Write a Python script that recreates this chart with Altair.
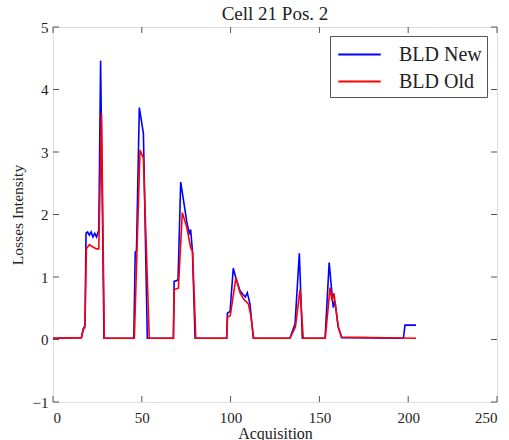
import altair as alt
import pandas as pd

# ---- data ----
new_x = [0, 16, 17, 18, 18.6, 19.5, 20.5, 21.5, 22.5, 23.5, 24.5, 25.8, 26.8, 28.7,
         45.5, 46.3, 47, 48.6, 50.9, 53.1,
         67.8, 68.2, 70.4, 71.9, 75.3, 76.8, 77.5, 78.5, 80.0,
         97.8, 98.2, 99.7, 101.5, 103, 105.3, 107, 108.3, 109.4, 110.9, 112.8,
         133.4, 136.3, 138.7, 140.4,
         153.2, 155.5, 157.8, 158.7, 160.6, 162.5,
         197.3, 198.2, 204.4]
new_y = [0.02, 0.03, 0.17, 0.22, 1.70, 1.72, 1.67, 1.72, 1.64, 1.70, 1.64, 1.75, 4.46, 0.02,
         0.02, 1.40, 1.42, 3.71, 3.30, 0.02,
         0.02, 0.93, 0.95, 2.52, 1.89, 1.68, 1.76, 1.42, 0.02,
         0.02, 0.42, 0.45, 1.14, 0.98, 0.78, 0.72, 0.68, 0.75, 0.57, 0.02,
         0.02, 0.25, 1.38, 0.02,
         0.02, 1.23, 0.51, 0.62, 0.20, 0.03,
         0.02, 0.23, 0.23]

old_x = [0, 16, 17, 18, 18.8, 20.5, 22.5, 24.5, 25.8, 27.3, 28.9,
         45.8, 49.0, 50.9, 54.2,
         67.8, 68.3, 70.6, 72.8, 75.3, 77.5, 78.6, 80.4,
         97.8, 98.3, 99.8, 103, 105.3, 107.2, 110, 111.3, 113,
         133.4, 136.5, 139.1, 140.9,
         153.3, 156, 157.1, 158.2, 160.6, 162.5,
         204.4]
old_y = [0.02, 0.03, 0.15, 0.20, 1.45, 1.52, 1.48, 1.45, 1.45, 3.62, 0.02,
         0.02, 3.03, 2.90, 0.02,
         0.02, 0.80, 0.82, 2.03, 1.80, 1.47, 1.41, 0.02,
         0.02, 0.36, 0.38, 0.99, 0.75, 0.65, 0.57, 0.40, 0.02,
         0.02, 0.20, 0.80, 0.02,
         0.02, 0.83, 0.62, 0.74, 0.20, 0.04,
         0.02]

series_names = ["BLD New", "BLD Old"]
series_colors = ["#0000ff", "#ff0000"]
x_ticks = [0, 50, 100, 150, 200, 250]
y_ticks = [-1, 0, 1, 2, 3, 4, 5]

df = pd.concat([
    pd.DataFrame({"Acquisition": new_x, "Losses": new_y, "series": series_names[0], "o": range(len(new_x))}),
    pd.DataFrame({"Acquisition": old_x, "Losses": old_y, "series": series_names[1], "o": range(len(old_x))}),
])

W, H = 444, 375
FONT = "Liberation Serif"

xscale = alt.Scale(domain=[0, 250], nice=False)
yscale = alt.Scale(domain=[-1, 5], nice=False)

lines = alt.Chart(df).mark_line(strokeWidth=1.6).encode(
    x=alt.X("Acquisition:Q", scale=xscale,
            axis=alt.Axis(values=x_ticks, format="d", title="Acquisition", tickSize=0, labelPadding=8,
                          domain=False, grid=False, labelFontSize=15, titleFontSize=16,
                          titleFontWeight="normal", titlePadding=0, labelFont=FONT, titleFont=FONT,
                          labelColor="#222", titleColor="#222")),
    y=alt.Y("Losses:Q", scale=yscale,
            axis=alt.Axis(values=y_ticks, format="d", title="Losses Intensity", tickSize=0, labelPadding=5,
                          domain=False, grid=False, labelFontSize=15, titleFontSize=15.5,
                          titleFontWeight="normal", titlePadding=7, labelFont=FONT, titleFont=FONT,
                          labelColor="#222", titleColor="#222")),
    color=alt.Color("series:N", scale=alt.Scale(domain=series_names, range=series_colors),
                    legend=alt.Legend(title=None, orient="none", legendX=277, legendY=9,
                                      symbolType="M-1.7,0L1.7,0", symbolSize=625, symbolStrokeWidth=1.8,
                                      symbolOffset=11,
                                      labelFontSize=20, labelFont=FONT, labelColor="#222",
                                      labelOffset=26, padding=5, rowPadding=3,
                                      strokeColor="#555", fillColor="white")),
    order="o:Q",
)

xt = pd.DataFrame({"t": x_ticks})
yt = pd.DataFrame({"t": y_ticks})
tick_col = "#555"
xb = alt.Chart(xt).mark_rule(color=tick_col).encode(x=alt.X("t:Q", scale=xscale), y=alt.value(H - 6), y2=alt.value(H))
xtop = alt.Chart(xt).mark_rule(color=tick_col).encode(x=alt.X("t:Q", scale=xscale), y=alt.value(0), y2=alt.value(6))
yl = alt.Chart(yt).mark_rule(color=tick_col).encode(y=alt.Y("t:Q", scale=yscale), x=alt.value(0), x2=alt.value(6))
yr = alt.Chart(yt).mark_rule(color=tick_col).encode(y=alt.Y("t:Q", scale=yscale), x=alt.value(W - 6), x2=alt.value(W))

chart = alt.layer(lines, xb, xtop, yl, yr).properties(
    width=W, height=H,
    title=alt.TitleParams("Cell 21 Pos. 2", fontSize=19, font=FONT, fontWeight="normal",
                          color="#222", offset=0, dy=4, frame="group"),
    autosize=alt.AutoSizeParams(type="none"),
    padding={"left": 53, "top": 27, "right": 12, "bottom": 38},
).configure_view(stroke="#666", strokeWidth=1.2).configure(background="white")

chart.save("out.html", embed_options={"renderer": "svg", "actions": False})
